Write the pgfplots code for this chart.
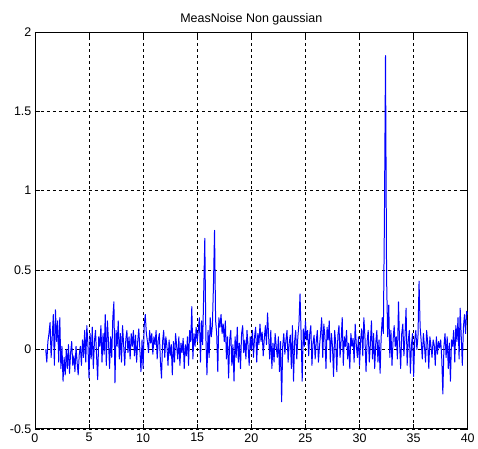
\documentclass[border=0pt]{standalone}
\usepackage{pgfplots}
\pgfplotsset{compat=1.18}
\usepackage{fontspec}
\setmainfont{Liberation Sans}
\begin{document}
\begin{tikzpicture}
\begin{axis}[
  name=main,
  scale only axis,
  width=434pt, height=398pt,
  xmin=0, xmax=40, ymin=-0.5, ymax=2,
  xtick={0,5,10,15,20,25,30,35,40},
  ytick={-0.5,0,0.5,1,1.5,2},
  yticklabels={-0.5,0,0.5,1,1.5,2},
  xticklabels={0,5,10,15,20,25,30,35,40},
  grid=major,
  major grid style={black, line width=0.6pt, dash pattern=on 3pt off 3pt},
  tick align=inside,
  major tick length=5pt,
  tick style={black, line width=0.6pt},
  axis line style={black, line width=0.8pt},
  ticklabel style={font=\fontsize{12.5}{14}\selectfont},
  xticklabel style={yshift=-1pt},
  title={MeasNoise Non gaussian},
  title style={font=\fontsize{12.5}{14}\selectfont, yshift=-3pt},
  /pgf/number format/assume math mode=true,
]
\addplot[blue, line width=1pt, line join=round] coordinates {
(1.0,0.00) (1.1,-0.08) (1.2,0.05) (1.3,0.10) (1.4,0.17) (1.5,-0.05) (1.6,0.08) (1.7,0.22) (1.8,-0.10) (1.9,0.25)
(2.0,0.05) (2.1,0.18) (2.2,-0.08) (2.3,0.20) (2.4,-0.12) (2.5,0.02) (2.6,-0.20) (2.7,-0.05) (2.8,-0.16) (2.9,0.00)
(3.0,-0.12) (3.1,0.03) (3.2,-0.15) (3.3,-0.02) (3.4,0.05) (3.5,-0.10) (3.6,-0.04) (3.7,-0.14) (3.8,0.02) (3.9,-0.08)
(4.0,-0.16) (4.1,-0.03) (4.2,0.02) (4.3,-0.10) (4.4,0.06) (4.5,-0.05) (4.6,0.12) (4.7,-0.08) (4.8,0.15) (4.9,0.03)
(5.0,-0.18) (5.1,0.10) (5.2,-0.06) (5.3,0.14) (5.4,-0.12) (5.5,0.05) (5.6,0.12) (5.7,-0.04) (5.8,-0.19) (5.9,0.08)
(6.0,0.02) (6.1,0.15) (6.2,-0.08) (6.3,0.10) (6.4,-0.03) (6.5,0.22) (6.6,-0.10) (6.7,0.18) (6.8,0.05) (6.9,-0.12)
(7.0,0.08) (7.1,-0.05) (7.2,0.20) (7.3,0.30) (7.4,-0.21) (7.5,0.12) (7.6,0.02) (7.7,0.18) (7.8,-0.06) (7.9,0.10)
(8.0,-0.08) (8.1,0.15) (8.2,0.03) (8.3,-0.10) (8.4,0.06) (8.5,0.12) (8.6,-0.02) (8.7,0.08) (8.8,-0.06) (8.9,0.10)
(9.0,0.02) (9.1,0.12) (9.2,-0.04) (9.3,0.09) (9.4,-0.08) (9.5,0.05) (9.6,0.13) (9.7,0.00) (9.8,-0.14) (9.9,0.06)
(10.0,-0.12) (10.1,0.15) (10.2,0.22) (10.3,0.10) (10.4,0.05) (10.5,-0.02) (10.6,0.12) (10.7,0.04) (10.8,0.10) (10.9,-0.03)
(11.0,0.08) (11.1,0.03) (11.2,0.12) (11.3,-0.06) (11.4,0.06) (11.5,0.10) (11.6,-0.08) (11.7,-0.18) (11.8,0.05) (11.9,0.12)
(12.0,-0.05) (12.1,0.08) (12.2,0.02) (12.3,-0.10) (12.4,0.06) (12.5,-0.04) (12.6,0.03) (12.7,-0.16) (12.8,0.05) (12.9,-0.08)
(13.0,0.10) (13.1,0.02) (13.2,-0.06) (13.3,0.08) (13.4,-0.10) (13.5,0.04) (13.6,-0.02) (13.7,0.07) (13.8,-0.12) (13.9,0.03)
(14.0,-0.04) (14.1,0.08) (14.2,-0.10) (14.3,0.12) (14.4,0.05) (14.5,0.27) (14.6,-0.06) (14.7,0.10) (14.8,0.02) (14.9,0.14)
(15.0,0.05) (15.1,0.12) (15.2,0.20) (15.3,-0.08) (15.4,0.18) (15.5,0.03) (15.6,0.36) (15.7,0.70) (15.8,0.08) (15.9,-0.16)
(16.0,0.12) (16.1,-0.05) (16.2,0.20) (16.3,0.08) (16.4,0.15) (16.5,0.40) (16.6,0.75) (16.7,0.18) (16.8,0.10) (16.9,-0.14)
(17.0,0.20) (17.1,0.14) (17.2,0.22) (17.3,0.10) (17.4,0.16) (17.5,0.05) (17.6,0.18) (17.7,-0.06) (17.8,0.08) (17.9,-0.18)
(18.0,0.06) (18.1,0.12) (18.2,-0.10) (18.3,0.03) (18.4,-0.20) (18.5,0.08) (18.6,-0.05) (18.7,0.14) (18.8,-0.08) (18.9,0.04)
(19.0,-0.12) (19.1,0.10) (19.2,0.15) (19.3,-0.02) (19.4,0.06) (19.5,-0.06) (19.6,0.12) (19.7,0.02) (19.8,-0.10) (19.9,0.08)
(20.0,0.00) (20.1,0.12) (20.2,-0.05) (20.3,0.08) (20.4,0.14) (20.5,-0.08) (20.6,0.10) (20.7,0.03) (20.8,0.16) (20.9,0.05)
(21.0,0.11) (21.1,-0.04) (21.2,0.07) (21.3,0.15) (21.4,0.03) (21.5,0.23) (21.6,0.08) (21.7,-0.06) (21.8,0.12) (21.9,-0.12)
(22.0,0.04) (22.1,-0.08) (22.2,0.10) (22.3,0.02) (22.4,-0.05) (22.5,0.08) (22.6,-0.14) (22.7,0.05) (22.8,-0.33) (22.9,0.02)
(23.0,0.10) (23.1,-0.03) (23.2,0.06) (23.3,0.12) (23.4,-0.08) (23.5,0.04) (23.6,0.09) (23.7,-0.12) (23.8,0.15) (23.9,-0.20)
(24.0,0.05) (24.1,0.12) (24.2,-0.06) (24.3,0.08) (24.4,0.16) (24.5,0.35) (24.6,0.10) (24.7,-0.20) (24.8,0.13) (24.9,0.02)
(25.0,0.18) (25.1,0.06) (25.2,0.12) (25.3,-0.04) (25.4,0.10) (25.5,0.15) (25.6,-0.10) (25.7,0.04) (25.8,0.09) (25.9,-0.06)
(26.0,0.05) (26.1,0.12) (26.2,-0.08) (26.3,0.02) (26.4,0.10) (26.5,0.20) (26.6,-0.05) (26.7,0.16) (26.8,0.08) (26.9,-0.12)
(27.0,0.14) (27.1,0.06) (27.2,0.18) (27.3,-0.08) (27.4,0.10) (27.5,0.02) (27.6,-0.17) (27.7,0.12) (27.8,0.04) (27.9,-0.14)
(28.0,0.09) (28.1,0.15) (28.2,-0.05) (28.3,0.06) (28.4,0.20) (28.5,-0.10) (28.6,0.08) (28.7,0.02) (28.8,0.12) (28.9,-0.06)
(29.0,0.04) (29.1,-0.12) (29.2,0.10) (29.3,0.02) (29.4,0.07) (29.5,-0.08) (29.6,0.16) (29.7,0.03) (29.8,-0.05) (29.9,0.08)
(30.0,-0.10) (30.1,0.06) (30.2,0.13) (30.3,-0.04) (30.4,0.20) (30.5,0.08) (30.6,-0.14) (30.7,0.05) (30.8,0.12) (30.9,-0.08)
(31.0,0.03) (31.1,0.18) (31.2,-0.06) (31.3,0.10) (31.4,-0.12) (31.5,0.04) (31.6,0.12) (31.7,-0.08) (31.8,0.06) (31.9,-0.15)
(32.0,0.08) (32.1,0.20) (32.2,0.10) (32.3,0.82) (32.4,1.85) (32.5,0.45) (32.6,0.08) (32.7,0.28) (32.8,-0.05) (32.9,0.12)
(33.0,-0.10) (33.1,0.06) (33.2,0.15) (33.3,0.02) (33.4,0.08) (33.5,-0.06) (33.6,0.30) (33.7,0.04) (33.8,-0.12) (33.9,0.10)
(34.0,0.16) (34.1,-0.04) (34.2,0.08) (34.3,0.26) (34.4,-0.10) (34.5,0.05) (34.6,0.12) (34.7,-0.15) (34.8,0.03) (34.9,0.10)
(35.0,-0.17) (35.1,0.06) (35.2,0.12) (35.3,0.00) (35.4,0.08) (35.5,0.43) (35.6,0.14) (35.7,0.05) (35.8,-0.06) (35.9,0.10)
(36.0,0.02) (36.1,-0.08) (36.2,0.12) (36.3,0.04) (36.4,-0.12) (36.5,0.08) (36.6,0.02) (36.7,-0.05) (36.8,0.06) (36.9,0.03)
(37.0,-0.10) (37.1,0.08) (37.2,-0.03) (37.3,0.05) (37.4,0.01) (37.5,0.06) (37.6,-0.06) (37.7,-0.28) (37.8,0.02) (37.9,0.10)
(38.0,-0.05) (38.1,0.08) (38.2,-0.12) (38.3,0.04) (38.4,-0.20) (38.5,0.06) (38.6,0.02) (38.7,0.12) (38.8,-0.08) (38.9,0.15)
(39.0,0.05) (39.1,0.20) (39.2,-0.06) (39.3,0.26) (39.4,0.08) (39.5,-0.10) (39.6,0.14) (39.7,0.22) (39.8,0.10) (39.9,0.24)
(40.0,0.22)
};
\end{axis}
\path[use as bounding box] ([xshift=-35pt,yshift=-20pt]main.south west) rectangle ([xshift=9pt,yshift=32pt]main.north east);
\end{tikzpicture}
\end{document}
